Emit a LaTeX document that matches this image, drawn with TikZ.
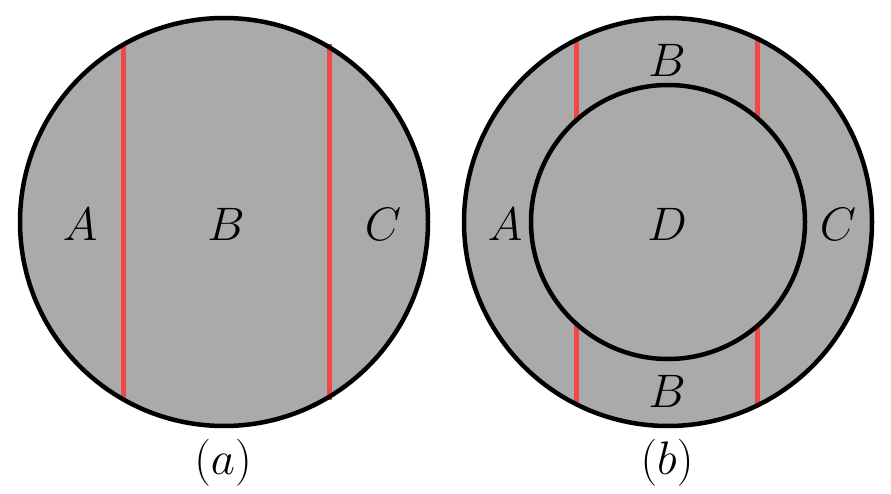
\RequirePackage{fix-cm}
\documentclass[tikz,border=0pt]{standalone}
\definecolor{diskgray}{RGB}{170,170,170}
\definecolor{cutred}{RGB}{240,72,72}
\begin{document}
\begin{tikzpicture}[x=1pt,y=-1pt,
  disk/.style={fill=diskgray},
  rim/.style={draw=black, line width=4.5pt},
  cut/.style={draw=cutred, line width=5pt},
  lbl/.style={font=\fontsize{47}{56}\selectfont, inner sep=0pt}]
\useasboundingbox (0,0) rectangle (891,494);
% ---- (a)
\coordinate (ca) at (224,222);
\fill[disk] (ca) circle[radius=204pt];
\draw[cut] (123,44) -- (123,400);
\draw[cut] (329,44) -- (329,400);
\draw[rim] (ca) circle[radius=204pt];
\node[lbl] (aA) at (80,224) {$A$};
\node[lbl] (aB) at (226,224) {$B$};
\node[lbl] (aC) at (383,224) {$C$};
\node[lbl] (capa) at (223,463) {$(a)$};
% ---- (b)
\coordinate (cb) at (668,222);
\fill[disk] (cb) circle[radius=204pt];
\draw[cut] (576,39) -- (576,122);
\draw[cut] (757,37) -- (757,119);
\draw[cut] (576,322) -- (576,405);
\draw[cut] (757,325) -- (757,407);
\draw[rim] (cb) circle[radius=204pt];
\draw[rim] (cb) circle[radius=137pt];
\node[lbl] (bA) at (505,224) {$A$};
\node[lbl] (bD) at (667,224) {$D$};
\node[lbl] (bC) at (838,224) {$C$};
\node[lbl] (bBt) at (667,60) {$B$};
\node[lbl] (bBb) at (667,391) {$B$};
\node[lbl] (capb) at (667,463) {$(b)$};
\end{tikzpicture}
\end{document}
